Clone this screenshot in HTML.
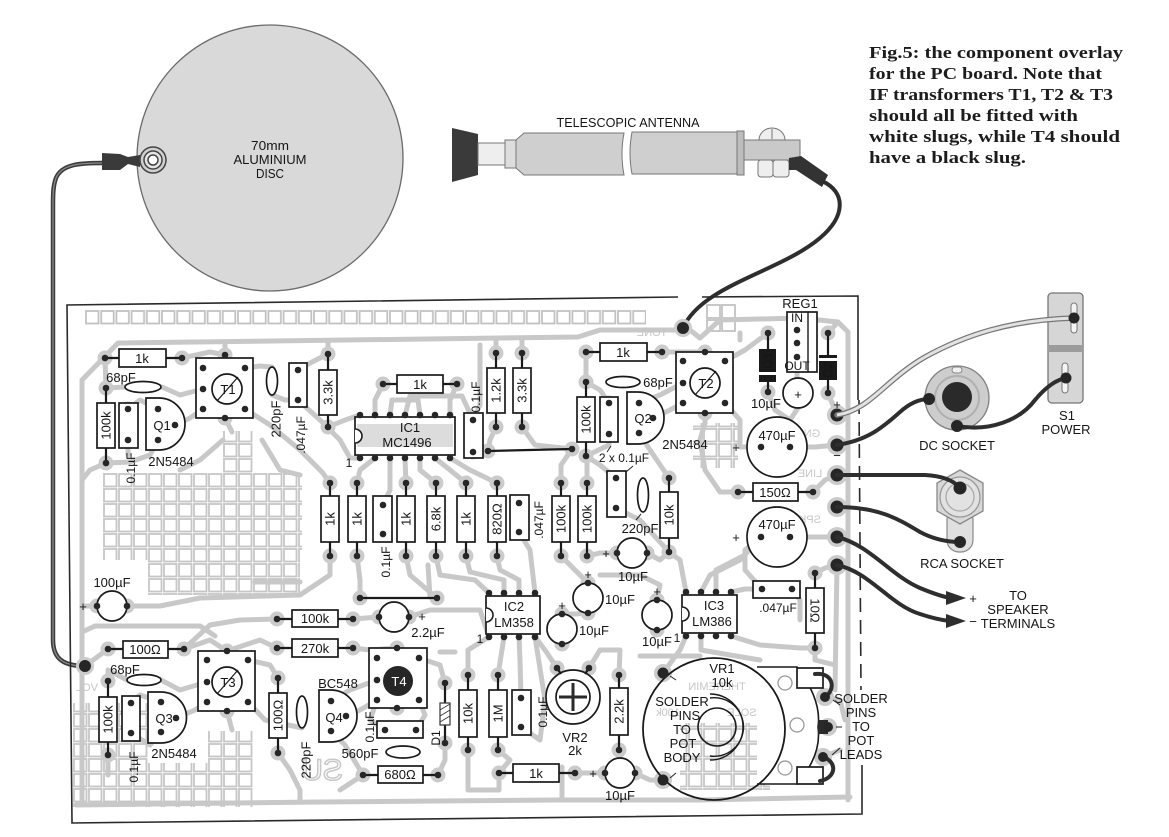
<!DOCTYPE html>
<html><head><meta charset="utf-8"><style>
html,body{margin:0;padding:0;background:#fff;}
svg{display:block;}
</style></head><body>
<svg width="1169" height="837" viewBox="0 0 1169 837" xmlns="http://www.w3.org/2000/svg">
<defs>
<pattern id="gT" x="85" y="310" width="15.2" height="15" patternUnits="userSpaceOnUse"><rect x="1" y="1" width="12.5" height="12.5" fill="none" stroke="#c2c2c2" stroke-width="1.8"/></pattern>
<pattern id="gG" x="73" y="428" width="15" height="15" patternUnits="userSpaceOnUse"><rect x="1" y="1" width="12.5" height="12.5" fill="none" stroke="#c6c6c6" stroke-width="1.8"/></pattern>
</defs>
<style>
.tr{fill:none;stroke:#c8c8c8;stroke-width:5;stroke-linejoin:round;stroke-linecap:round}
.h circle{fill:#cbcbcb}
.p circle{fill:#262626}
.b{fill:#fff;stroke:#1a1a1a;stroke-width:1.7}
.l{stroke:#1a1a1a;stroke-width:2.2}
.t{font-family:"Liberation Sans",sans-serif;font-size:13px;fill:#151515;text-anchor:middle}
.s{font-family:"Liberation Sans",sans-serif;font-size:12px;fill:#151515;text-anchor:middle}
.g{font-family:"Liberation Sans",sans-serif;fill:#c6c6c6;text-anchor:middle;font-size:11px}
.w{fill:none;stroke:#2e2e2e;stroke-width:4;stroke-linecap:round}
</style>
<rect width="1169" height="837" fill="#fff"/>

<!-- ===== Disc ===== -->
<circle cx="270" cy="158" r="133" fill="#d9d9d9" stroke="#6a6a6a" stroke-width="1.3"/>
<text class="t" x="270" y="150" textLength="38" lengthAdjust="spacingAndGlyphs">70mm</text>
<text class="t" x="270" y="164" textLength="73" lengthAdjust="spacingAndGlyphs">ALUMINIUM</text>
<text class="t" x="270" y="178" textLength="28" lengthAdjust="spacingAndGlyphs">DISC</text>
<!-- cable -->
<path d="M102 163 C80 163,62 164,56 178 C53 186,53 195,53 205 L53 640 C53 660,65 666,85 666" fill="none" stroke="#3c3c3c" stroke-width="4.5"/>
<path d="M102 163 C80 163,62 164,56 178 C53 186,53 195,53 205 L53 640 C53 660,65 666,85 666" fill="none" stroke="#8a8a8a" stroke-width="1.3"/>
<path d="M102 153 L120 154 L128 157 L140 155 L140 167 L128 164 L120 170 L102 170 Z" fill="#3a3a3a"/>
<circle cx="153" cy="160" r="13" fill="#d0d0d0" stroke="#444" stroke-width="1.5"/>
<circle cx="153" cy="160" r="9" fill="#e4e4e4" stroke="#444" stroke-width="1.5"/>
<circle cx="153" cy="160" r="5" fill="#fff" stroke="#444" stroke-width="1.5"/>

<!-- ===== Antenna ===== -->
<text class="t" x="628" y="127" textLength="143" lengthAdjust="spacingAndGlyphs">TELESCOPIC ANTENNA</text>
<polygon points="452,128 478,134 478,175 452,182" fill="#3a3a3a"/>
<rect x="478" y="143" width="27" height="22" fill="#eee" stroke="#777"/>
<rect x="505" y="140" width="11" height="28" fill="#ddd" stroke="#777"/>
<path d="M516 140 L524 133 L624 133 Q620 154 624 175 L524 175 L516 168 Z" fill="#cfcfcf" stroke="#777"/>
<path d="M632 132 L737 132 L737 174 L632 174 Q628 153 632 132 Z" fill="#cfcfcf" stroke="#777"/>
<rect x="737" y="131" width="7" height="44" fill="#bdbdbd" stroke="#777"/>
<rect x="744" y="140" width="56" height="20" fill="#c9c9c9" stroke="#777"/>
<path d="M759 140 A13 12 0 0 1 785 140 Z" fill="#eee" stroke="#777"/>
<line x1="772" y1="129" x2="772" y2="139" stroke="#777"/>
<rect x="758" y="160" width="15" height="17" rx="3" fill="#eee" stroke="#777"/>
<rect x="773" y="160" width="16" height="17" rx="3" fill="#eee" stroke="#777"/>
<polygon points="789,158 801,156 828,175 822,187 796,170 789,170" fill="#333"/>
<path d="M822 181 C846 192,846 216,820 238 C780 272,702 285,683 328" class="w" stroke-width="3.5"/>

<!-- ===== Caption ===== -->
<g font-family="'Liberation Serif',serif" font-weight="bold" font-size="17" fill="#1c1c1c">
<text x="869" y="58" textLength="254" lengthAdjust="spacingAndGlyphs">Fig.5: the component overlay</text>
<text x="869" y="79" textLength="233" lengthAdjust="spacingAndGlyphs">for the PC board. Note that</text>
<text x="869" y="100" textLength="244" lengthAdjust="spacingAndGlyphs">IF transformers T1, T2 &amp; T3</text>
<text x="869" y="121" textLength="209" lengthAdjust="spacingAndGlyphs">should all be fitted with</text>
<text x="869" y="142" textLength="251" lengthAdjust="spacingAndGlyphs">white slugs, while T4 should</text>
<text x="869" y="163" textLength="157" lengthAdjust="spacingAndGlyphs">have a black slug.</text>
</g>

<!-- ===== Board grids ===== -->
<rect x="85" y="310" width="561" height="15" fill="url(#gT)"/>
<g fill="none" stroke="#c2c2c2" stroke-width="1.8">
<rect x="707" y="305" width="13" height="13"/><rect x="722" y="305" width="13" height="13"/>
<rect x="707" y="320" width="13" height="11"/><rect x="722" y="320" width="13" height="11"/>
</g>
<rect x="103" y="473" width="199" height="87" fill="url(#gG)"/>
<rect x="148" y="560" width="152" height="35" fill="url(#gG)"/>
<rect x="223" y="431" width="30" height="42" fill="url(#gG)"/>
<rect x="73" y="703" width="75" height="104" fill="url(#gG)"/>
<rect x="148" y="763" width="105" height="44" fill="url(#gG)"/>
<rect x="208" y="731" width="45" height="32" fill="url(#gG)"/>
<rect x="693" y="423" width="45" height="45" fill="url(#gG)"/>
<rect x="680" y="723" width="90" height="67" fill="url(#gG)"/>

<!-- ===== Traces ===== -->
<g class="tr">
<path d="M82 800 L82 380 L118 343 L578 337 L600 330 L690 330 L700 338"/>
<path d="M105 358 L106 388 L125 387"/>
<path d="M182 358 L210 352 L225 355 L225 343"/>
<path d="M162 387 L180 395 L203 389"/>
<path d="M175 425 L190 418 L203 409"/>
<path d="M158 440 L150 455 L130 462 L106 463"/>
<path d="M128 440 L128 455"/>
<path d="M106 463 L90 470 L82 480"/>
<path d="M128 409 L140 400 L158 409"/>
<path d="M245 368 L260 366 L272 367"/>
<path d="M245 409 L270 425 L300 450 L322 472 L330 483"/>
<path d="M272 395 L285 400 L298 400"/>
<path d="M298 370 L312 362 L328 354"/>
<path d="M298 400 L320 420 L340 440 L350 458 L360 458"/>
<path d="M328 427 L345 420 L360 415"/>
<path d="M328 354 L328 343"/>
<path d="M383 384 L375 400 L375 415"/>
<path d="M457 384 L450 400 L450 415"/>
<path d="M390 415 L392 400 L418 400 L420 415"/>
<path d="M405 415 L410 396 L462 396 L473 420"/>
<path d="M473 420 L480 405 L480 345"/>
<path d="M496 353 L496 340"/><path d="M522 353 L522 340"/>
<path d="M496 427 L490 440 L488 451"/>
<path d="M522 427 L535 445 L572 449"/>
<path d="M225 418 L232 432"/>
<path d="M180 470 L200 460 L223 440"/>
<path d="M262 440 L280 470 L300 475"/>
<path d="M357 483 L360 470 L375 458"/>
<path d="M383 505 L390 490 L390 458"/>
<path d="M406 483 L405 458"/>
<path d="M436 483 L420 470 L420 458"/>
<path d="M466 483 L450 470 L435 458"/>
<path d="M497 483 L470 470 L450 458"/>
<path d="M561 483 L561 465 L572 449"/>
<path d="M587 483 L587 456"/>
<path d="M586 456 L600 465 L616 478"/>
<path d="M609 434 L609 445 L586 456"/>
<path d="M609 403 L600 390 L586 382 L586 352"/>
<path d="M639 403 L660 395 L683 383"/>
<path d="M653 418 L670 410 L683 403"/>
<path d="M639 433 L650 450 L669 478"/>
<path d="M662 352 L705 352"/>
<path d="M705 413 L705 423"/>
<path d="M725 361 L745 350 L768 333"/>
<path d="M725 403 L740 420 L740 447 L761 447"/>
<path d="M768 392 L775 410 L790 420 L798 408"/>
<path d="M797 357 L797 378"/>
<path d="M828 393 L837 415"/>
<path d="M828 333 L838 322 L848 332 L848 800"/>
<path d="M700 338 L720 320 L800 318 L838 322"/>
<path d="M740 333 L740 340"/>
<path d="M790 447 L815 447 L837 445"/>
<path d="M813 492 L825 480 L837 475"/>
<path d="M738 492 L720 492 L705 470 L700 440 L705 423"/>
<path d="M790 537 L837 537"/>
<path d="M761 537 L745 550 L745 570 L762 589"/>
<path d="M815 573 L825 568 L837 565 L835 690"/>
<path d="M792 589 L800 600 L800 620"/>
<path d="M815 648 L815 660 L835 665"/>
<path d="M616 508 L640 520 L669 552"/>
<path d="M330 556 L330 575 L300 595 L200 598 L160 606 L127 606"/>
<path d="M357 556 L360 580 L360 598"/>
<path d="M406 556 L410 575 L437 598"/>
<path d="M436 556 L440 575 L475 580 L489 593"/>
<path d="M466 556 L470 572 L504 580 L504 593"/>
<path d="M497 556 L500 570 L519 580 L519 593"/>
<path d="M519 532 L530 550 L535 593"/>
<path d="M561 556 L575 570 L588 583"/>
<path d="M587 556 L600 553 L617 553"/>
<path d="M647 553 L660 560 L669 552"/>
<path d="M669 552 L680 560 L686 592"/>
<path d="M588 613 L575 614 L562 614"/>
<path d="M657 600 L660 585 L640 575 L600 575"/>
<path d="M701 592 L710 575 L740 560 L761 537"/>
<path d="M716 592 L716 570 L745 555"/>
<path d="M731 592 L745 589 L762 589"/>
<path d="M255 582 L300 582"/>
<path d="M428 565 L430 597"/>
<path d="M97 606 L82 606"/>
<path d="M82 632 L95 626 L200 626 L215 636"/>
<path d="M108 649 L85 666"/>
<path d="M184 649 L210 640 L227 651"/>
<path d="M277 619 L240 620 L210 625 L184 649"/>
<path d="M277 648 L260 640 L227 651"/>
<path d="M353 619 L379 617"/>
<path d="M353 648 L370 650 L397 648"/>
<path d="M409 617 L430 610 L480 610 L489 637"/>
<path d="M108 681 L108 670 L127 680"/>
<path d="M161 680 L180 690 L207 682"/>
<path d="M176 718 L195 710 L207 702"/>
<path d="M131 703 L140 695 L161 702"/>
<path d="M108 755 L108 775"/>
<path d="M131 733 L150 745 L161 732"/>
<path d="M248 660 L270 665 L278 678"/>
<path d="M248 702 L265 720 L302 728"/>
<path d="M227 711 L232 730"/>
<path d="M278 753 L290 770 L300 790 L300 802"/>
<path d="M331 701 L350 690 L377 680"/>
<path d="M346 716 L360 710 L377 700"/>
<path d="M331 731 L345 745 L363 775"/>
<path d="M385 730 L370 720 L377 700"/>
<path d="M416 730 L425 715 L419 700"/>
<path d="M363 775 L340 790"/>
<path d="M438 775 L445 760 L445 743"/>
<path d="M445 683 L440 665 L419 658"/>
<path d="M468 675 L468 650 L489 637"/>
<path d="M498 675 L504 637"/>
<path d="M468 750 L468 790 L499 790 L499 773"/>
<path d="M521 698 L520 660 L519 637"/>
<path d="M521 727 L540 740 L545 700 L535 637"/>
<path d="M557 668 L545 650 L535 637"/>
<path d="M589 668 L600 650 L620 650 L619 675"/>
<path d="M440 652 L455 652"/>
<path d="M640 656 L700 656"/>
<path d="M562 767 L562 798"/>
<path d="M619 750 L620 758 L605 773"/>
<path d="M575 773 L605 773"/>
<path d="M635 773 L650 780 L663 780"/>
<path d="M663 673 L680 650 L686 636"/>
<path d="M701 636 L701 650 L730 655 L760 660"/>
<path d="M731 636 L760 645 L800 648 L815 648"/>
<path d="M498 750 L510 760 L499 773"/>
<path d="M76 805 L320 802 L560 800 L700 800 L850 797"/>
<path d="M825 697 L840 700 L845 720"/>
<path d="M823 757 L840 750"/>
</g>

<!-- ===== Mirrored ghost text ===== -->
<text class="g" transform="translate(652,336) scale(-1,1)">TONE</text>
<text class="g" transform="translate(808,437) scale(-1,1)">GND</text>
<text class="g" transform="translate(810,477) scale(-1,1)">LINE</text>
<text class="g" transform="translate(810,523) scale(-1,1)">SPK</text>
<text class="g" transform="translate(87,691) scale(-1,1)" font-size="12">VOL</text>
<text class="g" transform="translate(717,690) scale(-1,1)" font-size="13">THEREMIN</text>
<text class="g" transform="translate(668,716) scale(-1,1)" font-size="11">100k</text>
<text class="g" transform="translate(742,716) scale(-1,1)" font-size="12">SOLE</text>
<circle cx="772" cy="713" r="8" fill="none" stroke="#c8c8c8" stroke-width="1.5"/>
<text transform="translate(322,780) scale(-1,1)" text-anchor="middle" font-family="'Liberation Sans',sans-serif" font-size="30" fill="none" stroke="#c8c8c8" stroke-width="1.5">SU</text>

<!-- ===== Pad halos ===== -->
<g class="h">
<circle cx="105" cy="358" r="7.5"/><circle cx="182" cy="358" r="7.5"/><circle cx="106" cy="388" r="7.5"/><circle cx="106" cy="463" r="7.5"/><circle cx="128" cy="409" r="7.5"/><circle cx="128" cy="440" r="7.5"/><circle cx="158" cy="409" r="7.5"/><circle cx="158" cy="440" r="7.5"/><circle cx="175" cy="425" r="7.5"/>
<circle cx="203" cy="368" r="7.5"/><circle cx="203" cy="389" r="7.5"/><circle cx="203" cy="409" r="7.5"/><circle cx="245" cy="368" r="7.5"/><circle cx="245" cy="409" r="7.5"/><circle cx="225" cy="355" r="7.5"/><circle cx="225" cy="418" r="7.5"/>
<circle cx="298" cy="370" r="7.5"/><circle cx="298" cy="400" r="7.5"/><circle cx="328" cy="354" r="7.5"/><circle cx="328" cy="427" r="7.5"/><circle cx="383" cy="384" r="7.5"/><circle cx="457" cy="384" r="7.5"/>
<circle cx="473" cy="420" r="7.5"/><circle cx="473" cy="452" r="7.5"/><circle cx="496" cy="353" r="7.5"/><circle cx="496" cy="427" r="7.5"/><circle cx="522" cy="353" r="7.5"/><circle cx="522" cy="427" r="7.5"/><circle cx="488" cy="451" r="7.5"/><circle cx="572" cy="449" r="7.5"/>
<circle cx="586" cy="382" r="7.5"/><circle cx="586" cy="456" r="7.5"/><circle cx="609" cy="403" r="7.5"/><circle cx="609" cy="434" r="7.5"/><circle cx="639" cy="403" r="7.5"/><circle cx="639" cy="433" r="7.5"/><circle cx="653" cy="418" r="7.5"/><circle cx="586" cy="352" r="7.5"/><circle cx="662" cy="352" r="7.5"/>
<circle cx="683" cy="361" r="7.5"/><circle cx="683" cy="383" r="7.5"/><circle cx="683" cy="403" r="7.5"/><circle cx="725" cy="361" r="7.5"/><circle cx="725" cy="403" r="7.5"/><circle cx="705" cy="352" r="7.5"/><circle cx="705" cy="413" r="7.5"/>
<circle cx="616" cy="478" r="7.5"/><circle cx="616" cy="508" r="7.5"/><circle cx="669" cy="478" r="7.5"/><circle cx="669" cy="552" r="7.5"/>
<circle cx="768" cy="333" r="7.5"/><circle cx="768" cy="392" r="7.5"/><circle cx="828" cy="333" r="7.5"/><circle cx="828" cy="393" r="7.5"/>
<circle cx="761" cy="447" r="7.5"/><circle cx="790" cy="447" r="7.5"/><circle cx="738" cy="492" r="7.5"/><circle cx="813" cy="492" r="7.5"/><circle cx="761" cy="537" r="7.5"/><circle cx="790" cy="537" r="7.5"/>
<circle cx="330" cy="483" r="7.5"/><circle cx="357" cy="483" r="7.5"/><circle cx="406" cy="483" r="7.5"/><circle cx="436" cy="483" r="7.5"/><circle cx="466" cy="483" r="7.5"/><circle cx="497" cy="483" r="7.5"/><circle cx="561" cy="483" r="7.5"/><circle cx="587" cy="483" r="7.5"/>
<circle cx="330" cy="556" r="7.5"/><circle cx="357" cy="556" r="7.5"/><circle cx="406" cy="556" r="7.5"/><circle cx="436" cy="556" r="7.5"/><circle cx="466" cy="556" r="7.5"/><circle cx="497" cy="556" r="7.5"/><circle cx="561" cy="556" r="7.5"/><circle cx="587" cy="556" r="7.5"/>
<circle cx="383" cy="505" r="7.5"/><circle cx="383" cy="534" r="7.5"/><circle cx="519" cy="503" r="7.5"/><circle cx="519" cy="532" r="7.5"/>
<circle cx="617" cy="553" r="7.5"/><circle cx="647" cy="553" r="7.5"/><circle cx="588" cy="583" r="7.5"/><circle cx="588" cy="613" r="7.5"/><circle cx="562" cy="614" r="7.5"/><circle cx="562" cy="644" r="7.5"/><circle cx="657" cy="600" r="7.5"/><circle cx="657" cy="630" r="7.5"/>
<circle cx="379" cy="617" r="7.5"/><circle cx="409" cy="617" r="7.5"/><circle cx="97" cy="606" r="7.5"/><circle cx="127" cy="606" r="7.5"/><circle cx="605" cy="773" r="7.5"/><circle cx="635" cy="773" r="7.5"/>
<circle cx="360" cy="598" r="7.5"/><circle cx="437" cy="598" r="7.5"/><circle cx="277" cy="619" r="7.5"/><circle cx="353" cy="619" r="7.5"/><circle cx="277" cy="648" r="7.5"/><circle cx="353" cy="648" r="7.5"/><circle cx="108" cy="649" r="7.5"/><circle cx="184" cy="649" r="7.5"/>
<circle cx="108" cy="681" r="7.5"/><circle cx="108" cy="755" r="7.5"/><circle cx="131" cy="703" r="7.5"/><circle cx="131" cy="733" r="7.5"/><circle cx="161" cy="702" r="7.5"/><circle cx="161" cy="732" r="7.5"/><circle cx="176" cy="718" r="7.5"/>
<circle cx="207" cy="660" r="7.5"/><circle cx="207" cy="682" r="7.5"/><circle cx="207" cy="702" r="7.5"/><circle cx="248" cy="660" r="7.5"/><circle cx="248" cy="702" r="7.5"/><circle cx="227" cy="651" r="7.5"/><circle cx="227" cy="711" r="7.5"/>
<circle cx="278" cy="678" r="7.5"/><circle cx="278" cy="753" r="7.5"/><circle cx="331" cy="701" r="7.5"/><circle cx="331" cy="731" r="7.5"/><circle cx="346" cy="716" r="7.5"/>
<circle cx="377" cy="658" r="7.5"/><circle cx="377" cy="680" r="7.5"/><circle cx="377" cy="700" r="7.5"/><circle cx="419" cy="658" r="7.5"/><circle cx="419" cy="700" r="7.5"/><circle cx="397" cy="648" r="7.5"/><circle cx="397" cy="708" r="7.5"/>
<circle cx="385" cy="730" r="7.5"/><circle cx="416" cy="730" r="7.5"/><circle cx="363" cy="775" r="7.5"/><circle cx="438" cy="775" r="7.5"/><circle cx="445" cy="683" r="7.5"/><circle cx="445" cy="743" r="7.5"/>
<circle cx="468" cy="675" r="7.5"/><circle cx="468" cy="750" r="7.5"/><circle cx="498" cy="675" r="7.5"/><circle cx="498" cy="750" r="7.5"/><circle cx="521" cy="698" r="7.5"/><circle cx="521" cy="727" r="7.5"/>
<circle cx="557" cy="668" r="7.5"/><circle cx="589" cy="668" r="7.5"/><circle cx="619" cy="675" r="7.5"/><circle cx="619" cy="750" r="7.5"/><circle cx="499" cy="773" r="7.5"/><circle cx="575" cy="773" r="7.5"/>
<circle cx="762" cy="589" r="7.5"/><circle cx="792" cy="589" r="7.5"/><circle cx="815" cy="573" r="7.5"/><circle cx="815" cy="648" r="7.5"/>
<circle cx="663" cy="673" r="9"/><circle cx="663" cy="780" r="9"/><circle cx="683" cy="328" r="9"/><circle cx="85" cy="666" r="9"/>
<circle cx="837" cy="415" r="10"/><circle cx="837" cy="445" r="10"/><circle cx="837" cy="475" r="10"/><circle cx="837" cy="507" r="10"/><circle cx="837" cy="537" r="10"/><circle cx="837" cy="565" r="10"/>
<circle cx="825" cy="697" r="9"/><circle cx="828" cy="727" r="9"/><circle cx="823" cy="757" r="9"/>
</g>

<!-- ===== Board outline ===== -->
<g fill="none" stroke="#2a2a2a" stroke-width="1.6">
<path d="M678 297 L67 305 L72 823 L862 814 L862 765"/>
<path d="M702 297 L858 296 L858 400"/>
<path d="M859 400 L861 690" stroke-dasharray="14 8"/>
</g>

<!-- ===== Leads & links ===== -->
<g class="l">
<line x1="105" y1="358" x2="182" y2="358"/><line x1="383" y1="384" x2="457" y2="384"/><line x1="586" y1="352" x2="662" y2="352"/>
<line x1="738" y1="492" x2="813" y2="492"/><line x1="277" y1="619" x2="353" y2="619"/><line x1="277" y1="648" x2="353" y2="648"/>
<line x1="108" y1="649" x2="184" y2="649"/><line x1="363" y1="775" x2="438" y2="775"/><line x1="499" y1="773" x2="575" y2="773"/>
<line x1="106" y1="388" x2="106" y2="463"/><line x1="328" y1="354" x2="328" y2="427"/><line x1="496" y1="353" x2="496" y2="427"/><line x1="522" y1="353" x2="522" y2="427"/>
<line x1="586" y1="382" x2="586" y2="456"/><line x1="669" y1="478" x2="669" y2="552"/>
<line x1="330" y1="483" x2="330" y2="556"/><line x1="357" y1="483" x2="357" y2="556"/><line x1="406" y1="483" x2="406" y2="556"/><line x1="436" y1="483" x2="436" y2="556"/>
<line x1="466" y1="483" x2="466" y2="556"/><line x1="497" y1="483" x2="497" y2="556"/><line x1="561" y1="483" x2="561" y2="556"/><line x1="587" y1="483" x2="587" y2="556"/>
<line x1="108" y1="681" x2="108" y2="755"/><line x1="278" y1="678" x2="278" y2="753"/><line x1="468" y1="675" x2="468" y2="750"/><line x1="498" y1="675" x2="498" y2="750"/>
<line x1="619" y1="675" x2="619" y2="750"/><line x1="815" y1="573" x2="815" y2="648"/><line x1="768" y1="333" x2="768" y2="392"/><line x1="828" y1="333" x2="828" y2="393"/>
<line x1="445" y1="683" x2="445" y2="743"/>
<line x1="488" y1="451" x2="572" y2="449"/><line x1="360" y1="598" x2="437" y2="598"/>
</g>

<!-- ===== Resistors ===== -->
<g class="b">
<rect x="119" y="349" width="47" height="18"/><rect x="397" y="375" width="46" height="18"/><rect x="600" y="343" width="47" height="18"/>
<rect x="753" y="483" width="45" height="18"/><rect x="292" y="610" width="46" height="17"/><rect x="292" y="639" width="46" height="18"/>
<rect x="123" y="641" width="45" height="17"/><rect x="378" y="766" width="45" height="17"/><rect x="513" y="764" width="46" height="18"/>
<rect x="97" y="403" width="18" height="45"/><rect x="319" y="370" width="18" height="45"/><rect x="487" y="368" width="18" height="45"/><rect x="513" y="368" width="18" height="45"/>
<rect x="577" y="397" width="18" height="45"/><rect x="660" y="492" width="18" height="46"/>
<rect x="321" y="496" width="18" height="46"/><rect x="348" y="496" width="18" height="46"/><rect x="397" y="496" width="18" height="46"/><rect x="427" y="496" width="18" height="46"/>
<rect x="457" y="496" width="18" height="46"/><rect x="488" y="496" width="18" height="46"/><rect x="552" y="496" width="18" height="46"/><rect x="578" y="496" width="18" height="46"/>
<rect x="99" y="697" width="18" height="45"/><rect x="269" y="693" width="18" height="45"/><rect x="459" y="690" width="18" height="47"/><rect x="489" y="690" width="18" height="47"/>
<rect x="610" y="688" width="18" height="47"/><rect x="806" y="588" width="18" height="45"/>
</g>
<g class="t">
<text x="142" y="363">1k</text><text x="420" y="389">1k</text><text x="623" y="357">1k</text>
<text x="775" y="497">150Ω</text><text x="315" y="623">100k</text><text x="315" y="653">270k</text>
<text x="145" y="654">100Ω</text><text x="400" y="779">680Ω</text><text x="536" y="778">1k</text>
<text transform="translate(106,425.5) rotate(-90)" dy="4.5">100k</text>
<text transform="translate(328,392.5) rotate(-90)" dy="4.5">3.3k</text>
<text transform="translate(496,390.5) rotate(-90)" dy="4.5">1.2k</text>
<text transform="translate(522,390.5) rotate(-90)" dy="4.5">3.3k</text>
<text transform="translate(586,419.5) rotate(-90)" dy="4.5">100k</text>
<text transform="translate(669,515) rotate(-90)" dy="4.5">10k</text>
<text transform="translate(330,519) rotate(-90)" dy="4.5">1k</text>
<text transform="translate(357,519) rotate(-90)" dy="4.5">1k</text>
<text transform="translate(406,519) rotate(-90)" dy="4.5">1k</text>
<text transform="translate(436,519) rotate(-90)" dy="4.5">6.8k</text>
<text transform="translate(466,519) rotate(-90)" dy="4.5">1k</text>
<text transform="translate(497,519) rotate(-90)" dy="4.5">820Ω</text>
<text transform="translate(561,519) rotate(-90)" dy="4.5">100k</text>
<text transform="translate(587,519) rotate(-90)" dy="4.5">100k</text>
<text transform="translate(108,719.5) rotate(-90)" dy="4.5">100k</text>
<text transform="translate(278,715.5) rotate(-90)" dy="4.5">100Ω</text>
<text transform="translate(468,713.5) rotate(-90)" dy="4.5">10k</text>
<text transform="translate(498,713.5) rotate(-90)" dy="4.5">1M</text>
<text transform="translate(619,711.5) rotate(-90)" dy="4.5">2.2k</text>
<text transform="translate(815,610.5) rotate(90)" dy="4.5">10Ω</text>
</g>

<!-- ===== Box capacitors ===== -->
<g class="b">
<rect x="119" y="403" width="19" height="45"/><rect x="289" y="363" width="18" height="44"/><rect x="464" y="413" width="19" height="45"/>
<rect x="600" y="397" width="18" height="45"/><rect x="607" y="471" width="19" height="46"/><rect x="373" y="496" width="19" height="46"/>
<rect x="510" y="495" width="19" height="45"/><rect x="122" y="696" width="18" height="45"/><rect x="512" y="690" width="19" height="45"/>
<rect x="377" y="721" width="46" height="17"/><rect x="753" y="581" width="47" height="17"/>
</g>
<g class="s">
<text transform="translate(131,468) rotate(-90)" dy="4">0.1µF</text>
<text transform="translate(301,435) rotate(-90)" dy="4">.047µF</text>
<text transform="translate(476,397) rotate(-90)" dy="4">0.1µF</text>
<text transform="translate(386,562) rotate(-90)" dy="4">0.1µF</text>
<text transform="translate(539,520) rotate(-90)" dy="4">.047µF</text>
<text transform="translate(134,767) rotate(-90)" dy="4">0.1µF</text>
<text transform="translate(543,712) rotate(-90)" dy="4">0.1µF</text>
<text transform="translate(370,727) rotate(-90)" dy="4">0.1µF</text>
<text x="778" y="612">.047µF</text>
<text x="624" y="462">2 x 0.1µF</text>
</g>
<g stroke="#222" stroke-width="1"><line x1="607" y1="452" x2="611" y2="446"/><line x1="633" y1="466" x2="626" y2="472"/><line x1="636" y1="520" x2="641" y2="514"/></g>

<!-- ===== Ceramic caps ===== -->
<g class="b">
<ellipse cx="143" cy="387" rx="18" ry="5.5"/><ellipse cx="272" cy="381" rx="5.5" ry="14"/><ellipse cx="623" cy="382" rx="17" ry="5.5"/>
<ellipse cx="643" cy="495" rx="5.5" ry="17"/><ellipse cx="144" cy="680" rx="17" ry="5.5"/><ellipse cx="302" cy="712" rx="5.5" ry="16"/>
<ellipse cx="403" cy="752" rx="17" ry="6"/>
</g>
<g class="t">
<text x="121" y="382">68pF</text><text x="658" y="387">68pF</text><text x="125" y="674">68pF</text>
<text x="640" y="533">220pF</text><text x="360" y="758">560pF</text>
<text transform="translate(276,419) rotate(-90)" dy="4.5">220pF</text>
<text transform="translate(306,760) rotate(-90)" dy="4.5">220pF</text>
</g>

<!-- ===== Electrolytics ===== -->
<g class="b">
<circle cx="798" cy="393" r="15"/><circle cx="777" cy="447" r="30"/><circle cx="777" cy="537" r="30"/>
<circle cx="632" cy="553" r="15"/><circle cx="588" cy="598" r="15"/><circle cx="562" cy="629" r="15"/><circle cx="657" cy="615" r="15"/>
<circle cx="620" cy="773" r="15"/><circle cx="394" cy="617" r="15"/><circle cx="112" cy="606" r="15"/>
</g>
<g class="t" font-size="15">
<text x="798" y="399">+</text><text x="736" y="452">+</text><text x="736" y="542">+</text>
<text x="606" y="558">+</text><text x="588" y="579">+</text><text x="562" y="610">+</text><text x="657" y="596">+</text>
<text x="593" y="778">+</text><text x="422" y="621">+</text><text x="83" y="611">+</text>
<text x="837" y="409">+</text><text x="837" y="460">−</text>
</g>
<g class="t">
<text x="777" y="440">470µF</text><text x="777" y="529">470µF</text>
<text x="766" y="408">10µF</text><text x="633" y="581">10µF</text>
<text x="605" y="604" text-anchor="start">10µF</text><text x="579" y="635" text-anchor="start">10µF</text>
<text x="657" y="646">10µF</text><text x="620" y="800">10µF</text><text x="428" y="637">2.2µF</text><text x="112" y="587">100µF</text>
</g>

<!-- ===== ICs ===== -->
<rect x="355" y="417" width="100" height="38" class="b"/>
<rect x="357" y="424" width="96" height="23" fill="#dcdcdc"/>
<path d="M355 429 A7 7 0 0 1 355 443" fill="#fff" stroke="#1a1a1a" stroke-width="1.6"/>
<text class="t" x="410" y="432">IC1</text><text class="t" x="407" y="447">MC1496</text>
<text class="s" x="349" y="467">1</text>
<rect x="486" y="596" width="54" height="38" class="b"/>
<path d="M486 608 A7 7 0 0 1 486 622" fill="#fff" stroke="#1a1a1a" stroke-width="1.6"/>
<text class="t" x="514" y="611">IC2</text><text class="t" x="514" y="627">LM358</text><text class="s" x="480" y="643">1</text>
<rect x="682" y="595" width="55" height="38" class="b"/>
<path d="M682 607 A7 7 0 0 1 682 621" fill="#fff" stroke="#1a1a1a" stroke-width="1.6"/>
<text class="t" x="714" y="610">IC3</text><text class="t" x="712" y="626">LM386</text><text class="s" x="677" y="642">1</text>

<!-- ===== Transformers ===== -->
<g class="b">
<rect x="196" y="358" width="57" height="60"/><rect x="676" y="352" width="57" height="61"/>
<rect x="198" y="651" width="57" height="60"/><rect x="369" y="648" width="58" height="60"/>
<circle cx="227" cy="389" r="15"/><circle cx="705" cy="383" r="15"/><circle cx="227" cy="682" r="15"/>
</g>
<circle cx="398" cy="681" r="15" fill="#262626"/>
<g stroke="#1a1a1a" stroke-width="1.2"><line x1="217" y1="401" x2="238" y2="377"/><line x1="695" y1="395" x2="716" y2="371"/><line x1="217" y1="694" x2="238" y2="670"/></g>
<g class="t"><text x="228" y="394">T1</text><text x="706" y="388">T2</text><text x="228" y="687">T3</text><text x="399" y="686" fill="#fff">T4</text></g>

<!-- ===== Transistors ===== -->
<g class="b">
<path d="M146 398 L159 398 A26 26 0 0 1 159 450 L146 450 Z"/>
<path d="M627 392 L638 392 A26 26 0 0 1 638 444 L627 444 Z"/>
<path d="M148 692 L161 692 A25.5 25.5 0 0 1 161 743 L148 743 Z"/>
<path d="M319 690 L331 690 A26 26 0 0 1 331 742 L319 742 Z"/>
</g>
<g class="t" font-size="14">
<text x="162" y="430">Q1</text><text x="643" y="423">Q2</text><text x="164" y="723">Q3</text><text x="334" y="722">Q4</text>
<text x="171" y="466">2N5484</text><text x="685" y="449">2N5484</text><text x="174" y="758">2N5484</text><text x="338" y="688">BC548</text>
</g>

<!-- ===== Diodes, REG1 ===== -->
<rect x="759" y="349" width="17" height="33" fill="#1a1a1a"/><rect x="759" y="372" width="17" height="3" fill="#fff"/>
<text class="s" transform="translate(768,361) rotate(-90)" dy="4" fill="#fff">D3</text>
<rect x="819" y="355" width="18" height="25" fill="#1a1a1a"/><rect x="819" y="358" width="18" height="3" fill="#fff"/>
<text class="s" transform="translate(828,370) rotate(-90)" dy="4" fill="#fff">D2</text>
<rect x="440" y="703" width="10" height="22" fill="#fff" stroke="#333" stroke-width="1.2"/>
<g stroke="#333" stroke-width="0.8"><line x1="440" y1="710" x2="450" y2="704"/><line x1="440" y1="716" x2="450" y2="710"/><line x1="440" y1="722" x2="450" y2="716"/></g>
<text class="s" transform="translate(436,738) rotate(-90)" dy="4">D1</text>
<rect x="787" y="312" width="30" height="60" class="b"/><line x1="808" y1="312" x2="808" y2="372" stroke="#1a1a1a" stroke-width="1.4"/>
<text class="t" x="800" y="308">REG1</text>
<text class="s" x="797" y="322" font-size="8">IN</text><text class="s" x="797" y="370" font-size="8">OUT</text>

<!-- ===== VR2 ===== -->
<circle cx="573" cy="697" r="27" class="b"/>
<circle cx="573" cy="697" r="17" class="b"/>
<g stroke="#2a2a2a" stroke-width="3"><line x1="559" y1="697" x2="587" y2="697"/><line x1="573" y1="683" x2="573" y2="711"/></g>
<line x1="557" y1="668" x2="561" y2="674" class="l"/><line x1="589" y1="668" x2="585" y2="674" class="l"/>
<text class="t" x="575" y="742">VR2</text><text class="t" x="575" y="755">2k</text>

<!-- ===== VR1 & pot ===== -->
<path d="M757 667 L797 667 Q822 700 818 727 Q822 755 797 784 L757 784" fill="#fff" stroke="#1a1a1a" stroke-width="1.6"/>
<rect x="797" y="668" width="26" height="20" class="b"/><rect x="797" y="767" width="26" height="17" class="b"/>
<rect x="818" y="720" width="10" height="14" fill="#2a2a2a"/>
<g fill="none" stroke="#999" stroke-width="1.3"><circle cx="785" cy="683" r="7"/><circle cx="797" cy="725" r="7"/><circle cx="785" cy="768" r="7"/></g>
<circle cx="714" cy="729" r="71" fill="none" stroke="#1a1a1a" stroke-width="1.8"/>
<circle cx="717" cy="727" r="19" fill="none" stroke="#1a1a1a" stroke-width="1.6"/>
<path d="M710 694 A33 33 0 1 1 710 760" fill="none" stroke="#1a1a1a" stroke-width="1.4"/>
<path d="M710 698 A29.3 29.3 0 1 1 710 756" fill="none" stroke="#1a1a1a" stroke-width="1.4"/>
<text class="t" x="722" y="673">VR1</text><text class="t" x="722" y="687">10k</text>
<g class="t" font-size="12.5">
<text x="682" y="706">SOLDER</text><text x="685" y="720">PINS</text><text x="682" y="734">TO</text><text x="683" y="748">POT</text><text x="682" y="762">BODY</text>
<text x="861" y="703">SOLDER</text><text x="861" y="717">PINS</text><text x="861" y="731">TO</text><text x="861" y="745">POT</text><text x="861" y="759">LEADS</text>
</g>
<path d="M815 674 C834 672,836 690,825 697" class="w"/>
<path d="M823 757 C838 762,836 778,820 781" class="w"/>
<g stroke="#222" stroke-width="1"><line x1="676" y1="680" x2="670" y2="676"/><line x1="676" y1="773" x2="670" y2="778"/><line x1="840" y1="705" x2="833" y2="700"/><line x1="842" y1="727" x2="836" y2="727"/><line x1="840" y1="748" x2="832" y2="755"/></g>

<!-- ===== Pad dots ===== -->
<g class="p">
<circle cx="105" cy="358" r="3.3"/><circle cx="182" cy="358" r="3.3"/><circle cx="106" cy="388" r="3.3"/><circle cx="106" cy="463" r="3.3"/><circle cx="128" cy="409" r="3.3"/><circle cx="128" cy="440" r="3.3"/><circle cx="158" cy="409" r="3.3"/><circle cx="158" cy="440" r="3.3"/><circle cx="175" cy="425" r="3.3"/>
<circle cx="203" cy="368" r="3.3"/><circle cx="203" cy="389" r="3.3"/><circle cx="203" cy="409" r="3.3"/><circle cx="245" cy="368" r="3.3"/><circle cx="245" cy="409" r="3.3"/><circle cx="225" cy="355" r="3.3"/><circle cx="225" cy="418" r="3.3"/>
<circle cx="298" cy="370" r="3.3"/><circle cx="298" cy="400" r="3.3"/><circle cx="328" cy="354" r="3.3"/><circle cx="328" cy="427" r="3.3"/><circle cx="383" cy="384" r="3.3"/><circle cx="457" cy="384" r="3.3"/>
<circle cx="360" cy="415" r="3.3"/><circle cx="375" cy="415" r="3.3"/><circle cx="390" cy="415" r="3.3"/><circle cx="405" cy="415" r="3.3"/><circle cx="420" cy="415" r="3.3"/><circle cx="435" cy="415" r="3.3"/><circle cx="450" cy="415" r="3.3"/>
<circle cx="360" cy="458" r="3.3"/><circle cx="375" cy="458" r="3.3"/><circle cx="390" cy="458" r="3.3"/><circle cx="405" cy="458" r="3.3"/><circle cx="420" cy="458" r="3.3"/><circle cx="435" cy="458" r="3.3"/><circle cx="450" cy="458" r="3.3"/>
<circle cx="473" cy="420" r="3.3"/><circle cx="473" cy="452" r="3.3"/><circle cx="496" cy="353" r="3.3"/><circle cx="496" cy="427" r="3.3"/><circle cx="522" cy="353" r="3.3"/><circle cx="522" cy="427" r="3.3"/><circle cx="488" cy="451" r="3.3"/><circle cx="572" cy="449" r="3.3"/>
<circle cx="586" cy="382" r="3.3"/><circle cx="586" cy="456" r="3.3"/><circle cx="609" cy="403" r="3.3"/><circle cx="609" cy="434" r="3.3"/><circle cx="639" cy="403" r="3.3"/><circle cx="639" cy="433" r="3.3"/><circle cx="653" cy="418" r="3.3"/><circle cx="586" cy="352" r="3.3"/><circle cx="662" cy="352" r="3.3"/>
<circle cx="683" cy="361" r="3.3"/><circle cx="683" cy="383" r="3.3"/><circle cx="683" cy="403" r="3.3"/><circle cx="725" cy="361" r="3.3"/><circle cx="725" cy="403" r="3.3"/><circle cx="705" cy="352" r="3.3"/><circle cx="705" cy="413" r="3.3"/>
<circle cx="616" cy="478" r="3.3"/><circle cx="616" cy="508" r="3.3"/><circle cx="669" cy="478" r="3.3"/><circle cx="669" cy="552" r="3.3"/>
<circle cx="768" cy="333" r="3.3"/><circle cx="768" cy="392" r="3.3"/><circle cx="797" cy="330" r="3.3"/><circle cx="797" cy="343" r="3.3"/><circle cx="797" cy="357" r="3.3"/><circle cx="828" cy="333" r="3.3"/><circle cx="828" cy="393" r="3.3"/>
<circle cx="761" cy="447" r="3.3"/><circle cx="790" cy="447" r="3.3"/><circle cx="738" cy="492" r="3.3"/><circle cx="813" cy="492" r="3.3"/><circle cx="761" cy="537" r="3.3"/><circle cx="790" cy="537" r="3.3"/>
<circle cx="330" cy="483" r="3.3"/><circle cx="357" cy="483" r="3.3"/><circle cx="406" cy="483" r="3.3"/><circle cx="436" cy="483" r="3.3"/><circle cx="466" cy="483" r="3.3"/><circle cx="497" cy="483" r="3.3"/><circle cx="561" cy="483" r="3.3"/><circle cx="587" cy="483" r="3.3"/>
<circle cx="330" cy="556" r="3.3"/><circle cx="357" cy="556" r="3.3"/><circle cx="406" cy="556" r="3.3"/><circle cx="436" cy="556" r="3.3"/><circle cx="466" cy="556" r="3.3"/><circle cx="497" cy="556" r="3.3"/><circle cx="561" cy="556" r="3.3"/><circle cx="587" cy="556" r="3.3"/>
<circle cx="383" cy="505" r="3.3"/><circle cx="383" cy="534" r="3.3"/><circle cx="519" cy="503" r="3.3"/><circle cx="519" cy="532" r="3.3"/>
<circle cx="617" cy="553" r="3.3"/><circle cx="647" cy="553" r="3.3"/><circle cx="588" cy="583" r="3.3"/><circle cx="588" cy="613" r="3.3"/><circle cx="562" cy="614" r="3.3"/><circle cx="562" cy="644" r="3.3"/><circle cx="657" cy="600" r="3.3"/><circle cx="657" cy="630" r="3.3"/>
<circle cx="379" cy="617" r="3.3"/><circle cx="409" cy="617" r="3.3"/><circle cx="97" cy="606" r="3.3"/><circle cx="127" cy="606" r="3.3"/><circle cx="605" cy="773" r="3.3"/><circle cx="635" cy="773" r="3.3"/>
<circle cx="489" cy="593" r="3.3"/><circle cx="504" cy="593" r="3.3"/><circle cx="519" cy="593" r="3.3"/><circle cx="535" cy="593" r="3.3"/><circle cx="489" cy="637" r="3.3"/><circle cx="504" cy="637" r="3.3"/><circle cx="519" cy="637" r="3.3"/><circle cx="535" cy="637" r="3.3"/>
<circle cx="686" cy="592" r="3.3"/><circle cx="701" cy="592" r="3.3"/><circle cx="716" cy="592" r="3.3"/><circle cx="731" cy="592" r="3.3"/><circle cx="686" cy="636" r="3.3"/><circle cx="701" cy="636" r="3.3"/><circle cx="716" cy="636" r="3.3"/><circle cx="731" cy="636" r="3.3"/>
<circle cx="360" cy="598" r="3.3"/><circle cx="437" cy="598" r="3.3"/><circle cx="277" cy="619" r="3.3"/><circle cx="353" cy="619" r="3.3"/><circle cx="277" cy="648" r="3.3"/><circle cx="353" cy="648" r="3.3"/><circle cx="108" cy="649" r="3.3"/><circle cx="184" cy="649" r="3.3"/>
<circle cx="108" cy="681" r="3.3"/><circle cx="108" cy="755" r="3.3"/><circle cx="131" cy="703" r="3.3"/><circle cx="131" cy="733" r="3.3"/><circle cx="161" cy="702" r="3.3"/><circle cx="161" cy="732" r="3.3"/><circle cx="176" cy="718" r="3.3"/>
<circle cx="207" cy="660" r="3.3"/><circle cx="207" cy="682" r="3.3"/><circle cx="207" cy="702" r="3.3"/><circle cx="248" cy="660" r="3.3"/><circle cx="248" cy="702" r="3.3"/><circle cx="227" cy="651" r="3.3"/><circle cx="227" cy="711" r="3.3"/>
<circle cx="278" cy="678" r="3.3"/><circle cx="278" cy="753" r="3.3"/><circle cx="331" cy="701" r="3.3"/><circle cx="331" cy="731" r="3.3"/><circle cx="346" cy="716" r="3.3"/>
<circle cx="377" cy="658" r="3.3"/><circle cx="377" cy="680" r="3.3"/><circle cx="377" cy="700" r="3.3"/><circle cx="419" cy="658" r="3.3"/><circle cx="419" cy="700" r="3.3"/><circle cx="397" cy="648" r="3.3"/><circle cx="397" cy="708" r="3.3"/>
<circle cx="385" cy="730" r="3.3"/><circle cx="416" cy="730" r="3.3"/><circle cx="363" cy="775" r="3.3"/><circle cx="438" cy="775" r="3.3"/><circle cx="445" cy="683" r="3.3"/><circle cx="445" cy="743" r="3.3"/>
<circle cx="468" cy="675" r="3.3"/><circle cx="468" cy="750" r="3.3"/><circle cx="498" cy="675" r="3.3"/><circle cx="498" cy="750" r="3.3"/><circle cx="521" cy="698" r="3.3"/><circle cx="521" cy="727" r="3.3"/>
<circle cx="557" cy="668" r="3.3"/><circle cx="589" cy="668" r="3.3"/><circle cx="619" cy="675" r="3.3"/><circle cx="619" cy="750" r="3.3"/><circle cx="499" cy="773" r="3.3"/><circle cx="575" cy="773" r="3.3"/>
<circle cx="762" cy="589" r="3.3"/><circle cx="792" cy="589" r="3.3"/><circle cx="815" cy="573" r="3.3"/><circle cx="815" cy="648" r="3.3"/>
<circle cx="663" cy="673" r="5.5"/><circle cx="663" cy="780" r="5.5"/><circle cx="683" cy="328" r="6"/><circle cx="85" cy="666" r="6"/>
<circle cx="837" cy="415" r="6.5"/><circle cx="837" cy="445" r="6.5"/><circle cx="837" cy="475" r="6.5"/><circle cx="837" cy="507" r="6.5"/><circle cx="837" cy="537" r="6.5"/><circle cx="837" cy="565" r="6.5"/>
<circle cx="825" cy="697" r="5"/><circle cx="828" cy="727" r="5"/><circle cx="823" cy="757" r="5"/>
</g>

<!-- ===== Off-board: S1, DC socket, RCA ===== -->
<rect x="1048" y="293" width="35" height="110" rx="4" fill="#d6d6d6" stroke="#777" stroke-width="1.3"/>
<rect x="1048" y="345" width="35" height="7" fill="#9c9c9c"/>
<rect x="1071" y="303" width="6" height="30" rx="3" fill="#f4f4f4" stroke="#777"/>
<rect x="1062" y="363" width="6" height="30" rx="3" fill="#f4f4f4" stroke="#777"/>
<text class="t" x="1067" y="420">S1</text><text class="t" x="1066" y="434">POWER</text>

<circle cx="957" cy="398" r="32" fill="#cdcdcd" stroke="#808080" stroke-width="1.3"/>
<circle cx="957" cy="398" r="22" fill="none" stroke="#b0b0b0" stroke-width="2"/>
<rect x="952" y="367" width="10" height="6" rx="3" fill="#f0f0f0" stroke="#888"/>
<circle cx="957" cy="397" r="15" fill="#2a2a2a"/>
<text class="t" x="957" y="450">DC SOCKET</text>

<rect x="947" y="508" width="26" height="44" rx="12" fill="#e0e0e0" stroke="#888" stroke-width="1.2"/>
<polygon points="960,470 983,483 983,511 960,524 937,511 937,483" fill="#d8d8d8" stroke="#888" stroke-width="1.3"/>
<circle cx="960" cy="497" r="20" fill="#e2e2e2" stroke="#999" stroke-width="1.3"/>
<circle cx="960" cy="497" r="14" fill="none" stroke="#aaa" stroke-width="1.3"/>
<text class="t" x="962" y="568">RCA SOCKET</text>

<!-- wires -->
<path d="M837 415 C870 410,885 380,925 357 C965 335,1010 320,1074 318" fill="none" stroke="#777" stroke-width="5.5" stroke-linecap="round"/>
<path d="M837 415 C870 410,885 380,925 357 C965 335,1010 320,1074 318" fill="none" stroke="#e2e2e2" stroke-width="3"/>
<path d="M837 445 C870 440,885 425,900 412 C910 403,920 399,929 399" class="w"/>
<path d="M957 426 C990 432,1020 420,1035 400 C1045 388,1055 380,1066 378" class="w"/>
<path d="M837 475 L925 475 C945 476,955 482,960 488" class="w"/>
<path d="M837 507 C880 507,900 520,920 532 C935 540,950 542,960 542" class="w"/>
<path d="M837 537 C870 545,890 575,920 588 C932 593,940 596,950 598" class="w"/>
<path d="M837 565 C870 572,890 605,920 614 C932 618,940 620,950 621" class="w"/>
<polygon points="946,591 966,598 946,605" fill="#2e2e2e"/>
<polygon points="946,614 966,621 946,628" fill="#2e2e2e"/>
<g fill="#262626"><circle cx="1074" cy="318" r="5.5"/><circle cx="1066" cy="378" r="5.5"/><circle cx="929" cy="399" r="6"/><circle cx="957" cy="426" r="6"/><circle cx="960" cy="488" r="6.5"/><circle cx="960" cy="542" r="6"/></g>
<g class="t">
<text x="973" y="603">+</text><text x="973" y="626">−</text>
<text x="1018" y="600">TO</text><text x="1018" y="614">SPEAKER</text><text x="1018" y="628">TERMINALS</text>
</g>
</svg>
</body></html>
